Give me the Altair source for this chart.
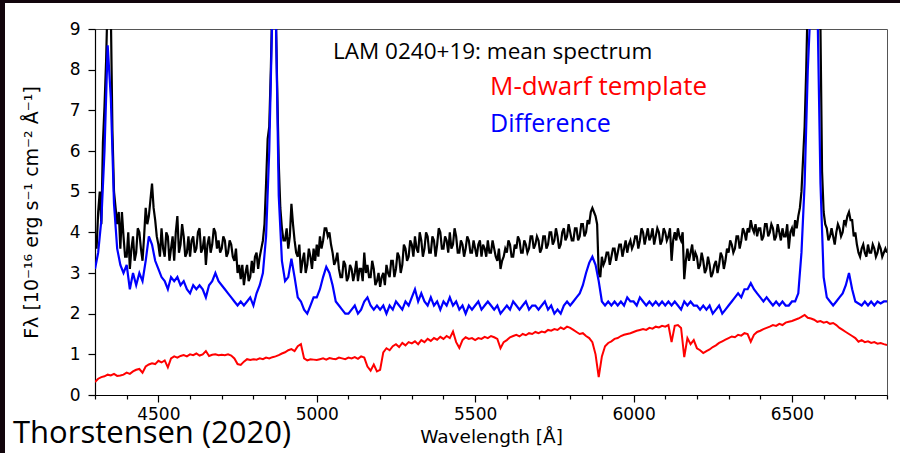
import altair as alt
import pandas as pd

# mean spectrum: wavelength grid 4300..6800 A in 10 A steps, plus values
# read at the half-way points (4305, 4315, ...)
mean_grid = [
    3.9, 4.5, 4.2, 7.1, 9.8, 9.4, 5.0, 4.2, 3.6, 3.9,
    3.4, 3.1, 3.9, 3.5, 4.0, 3.3, 4.6, 4.4, 5.2, 4.3,
    3.7, 4.1, 3.4, 3.9, 3.6, 3.3, 4.4, 3.7, 3.9, 3.5,
    3.4, 3.9, 3.6, 4.1, 3.6, 3.2, 3.9, 3.7, 4.0, 3.8,
    3.6, 3.8, 3.5, 3.7, 3.3, 3.0, 2.85, 2.7, 3.2, 2.9,
    3.0, 3.5, 3.4, 3.8, 5.2, 6.6, 9.8, 9.7, 5.7, 4.1,
    3.8, 3.6, 4.7, 3.8, 3.4, 3.0, 3.5, 3.2, 3.4, 3.6,
    3.7, 3.9, 3.8, 4.1, 4.0, 3.5, 3.3, 3.1, 2.9, 3.2,
    2.9, 3.1, 3.0, 2.8, 3.1, 3.5, 3.2, 2.9, 3.1, 2.8,
    2.66, 3.0, 3.2, 2.9, 3.3, 3.1, 3.4, 3.2, 3.6, 3.4,
    3.7, 3.9, 3.5, 3.8, 3.6, 3.9, 3.5, 3.8, 3.7, 4.0,
    3.6, 3.8, 4.0, 3.7, 3.9, 3.5, 3.7, 3.6, 3.8, 3.5,
    3.6, 3.7, 3.4, 3.6, 3.8, 3.5, 3.6, 3.3, 3.1, 3.4,
    3.5, 3.7, 3.4, 3.6, 3.8, 3.5, 3.7, 3.6, 3.9, 3.7,
    3.8, 3.6, 3.9, 3.7, 4.0, 3.8, 3.9, 3.7, 4.1, 3.9,
    4.0, 3.8, 4.1, 3.9, 4.2, 4.0, 4.2, 4.6, 4.4, 3.0,
    3.4, 3.3, 3.5, 3.4, 3.6, 3.5, 3.7, 3.6, 3.5, 3.8,
    3.7, 3.9, 3.8, 4.0, 3.9, 3.8, 4.1, 3.9, 4.0, 3.8,
    4.0, 3.9, 3.3, 4.0, 4.1, 3.8, 2.85, 3.6, 3.5, 3.3,
    3.4, 3.2, 3.3, 3.1, 3.2, 3.0, 3.3, 3.2, 3.4, 3.3,
    3.5, 3.7, 3.6, 3.9, 3.8, 4.0, 4.1, 4.3, 4.0, 3.9,
    4.1, 3.9, 4.2, 4.0, 4.1, 3.9, 4.0, 4.1, 3.9, 3.6,
    4.1, 4.3, 4.4, 5.0, 6.6, 9.8, 9.8, 9.8, 9.8, 9.0,
    4.5, 4.1, 3.9, 3.9, 4.0, 4.1, 4.0, 4.2, 4.5, 4.3,
    4.0, 3.5, 3.6, 3.5, 3.7, 3.5, 3.6, 3.5, 3.6, 3.5,
    3.5,
]
mean_half = [
    3.6, 5.0, 6.2, 8.2, 9.8, 6.5, 4.6, 4.5, 4.5, 3.4,
    4.0, 3.6, 3.3, 4.1, 3.6, 3.9, 4.2, 4.8, 4.6, 3.9,
    3.4, 3.6, 4.0, 3.3, 3.9, 4.0, 3.5, 4.2, 3.4, 3.9,
    3.8, 3.5, 4.0, 3.5, 3.9, 3.7, 3.5, 4.1, 3.6, 3.5,
    3.9, 3.4, 3.8, 3.4, 3.6, 3.2, 3.2, 3.0, 2.8, 3.3,
    3.4, 3.1, 3.6, 4.2, 6.3, 8.0, 9.8, 7.6, 4.6, 3.8,
    4.1, 3.9, 4.2, 3.5, 3.7, 3.3, 3.0, 3.6, 3.1, 3.3,
    3.4, 3.6, 4.1, 3.9, 3.7, 3.2, 3.5, 2.9, 3.3, 2.8,
    3.2, 2.8, 3.3, 3.1, 2.8, 3.0, 2.9, 3.3, 2.7, 3.0,
    2.9, 2.7, 3.0, 3.3, 2.9, 3.5, 3.0, 3.7, 3.3, 3.8,
    3.4, 3.6, 4.0, 3.4, 4.0, 3.5, 3.9, 3.4, 4.1, 3.6,
    3.9, 3.5, 3.6, 4.1, 3.5, 3.8, 3.4, 3.9, 3.5, 3.8,
    3.4, 3.8, 3.7, 3.4, 3.5, 3.8, 3.4, 3.6, 3.3, 3.6,
    3.8, 3.4, 3.7, 3.9, 3.5, 3.8, 3.5, 3.9, 3.6, 3.9,
    3.5, 3.9, 3.6, 4.0, 3.7, 4.1, 3.6, 4.0, 3.8, 4.2,
    3.8, 4.1, 3.8, 4.2, 3.9, 4.3, 4.5, 4.5, 4.2, 2.9,
    3.2, 3.5, 3.2, 3.6, 3.3, 3.7, 3.4, 3.8, 3.7, 3.6,
    3.9, 3.6, 4.1, 3.7, 4.1, 3.9, 3.7, 4.1, 3.7, 4.1,
    3.8, 4.1, 3.8, 3.8, 3.9, 4.0, 3.3, 3.3, 3.7, 3.5,
    3.1, 3.5, 3.0, 3.4, 2.9, 3.2, 3.0, 3.5, 3.1, 3.6,
    3.8, 3.5, 3.9, 3.6, 4.1, 3.8, 4.0, 4.1, 4.2, 4.1,
    3.8, 4.2, 3.9, 4.2, 3.8, 4.2, 3.8, 3.9, 4.2, 4.0,
    3.9, 4.1, 4.6, 5.8, 8.0, 9.8, 9.8, 9.8, 9.8, 5.5,
    4.2, 3.8, 4.1, 3.7, 4.2, 3.9, 4.3, 4.4, 4.3, 3.9,
    3.7, 3.4, 3.7, 3.4, 3.5, 3.7, 3.4, 3.7, 3.4, 3.6,
]

# wavelength grid (Angstrom), 10 A steps, for the difference and template
wavelength = list(range(4300, 6810, 10))

difference = [
    3.1, 3.5, 4.3, 6.0, 8.6, 7.3, 4.7, 3.6, 3.2, 3.0,
    3.2, 2.6, 3.0, 2.7, 3.0, 2.8, 3.3, 3.9, 3.7, 3.3,
    3.1, 2.9, 2.8, 2.6, 2.9, 2.8, 2.9, 2.7, 2.8, 2.6,
    2.5, 2.7, 2.6, 2.7, 2.6, 2.4, 2.7, 2.8, 3.0, 2.8,
    2.7, 2.6, 2.5, 2.4, 2.3, 2.2, 2.3, 2.2, 2.3, 2.4,
    2.2, 2.5, 2.7, 3.0, 3.9, 6.0, 9.5, 9.8, 4.9, 3.3,
    2.8, 2.9, 3.35, 2.9, 2.4, 2.3, 2.1, 2.0, 2.2, 2.4,
    2.4, 2.6, 2.9, 3.15, 3.0, 2.7, 2.3, 2.2, 2.1, 2.0,
    2.0, 2.1, 2.2, 2.0, 2.1, 2.3, 2.4, 2.2, 2.1, 2.2,
    2.1, 2.2, 2.0, 2.2, 2.1, 2.3, 2.2, 2.1, 2.3, 2.2,
    2.4, 2.6, 2.3, 2.5, 2.3, 2.2, 2.4, 2.2, 2.3, 2.1,
    2.3, 2.2, 2.4, 2.2, 2.3, 2.1, 2.2, 2.0, 2.2, 2.1,
    2.2, 2.3, 2.1, 2.2, 2.3, 2.2, 2.1, 2.2, 2.0, 2.1,
    2.2, 2.1, 2.3, 2.2, 2.1, 2.2, 2.3, 2.1, 2.2, 2.2,
    2.1, 2.2, 2.3, 2.1, 2.2, 2.0, 2.1, 2.0, 2.2, 2.3,
    2.2, 2.3, 2.4, 2.5, 2.7, 3.0, 3.25, 3.4, 3.2, 2.8,
    2.3, 2.2, 2.3, 2.2, 2.3, 2.2, 2.3, 2.2, 2.4, 2.3,
    2.3, 2.2, 2.4, 2.3, 2.2, 2.3, 2.2, 2.3, 2.2, 2.3,
    2.2, 2.3, 2.2, 2.3, 2.2, 2.1, 2.3, 2.2, 2.3, 2.2,
    2.2, 2.1, 2.2, 2.1, 2.2, 2.0, 2.1, 2.2, 2.0, 2.1,
    2.2, 2.3, 2.4, 2.5, 2.4, 2.6, 2.6, 2.75, 2.6, 2.5,
    2.4, 2.3, 2.4, 2.3, 2.2, 2.3, 2.2, 2.3, 2.2, 2.2,
    2.3, 2.3, 2.5, 3.5, 5.2, 8.0, 9.8, 9.8, 9.8, 5.2,
    2.9, 2.4, 2.3, 2.2, 2.3, 2.4, 2.5, 2.7, 3.0, 2.6,
    2.3, 2.25, 2.2, 2.3, 2.2, 2.3, 2.2, 2.3, 2.25, 2.3,
    2.3,
]

m_dwarf = [
    0.32, 0.40, 0.44, 0.46, 0.50, 0.48, 0.52, 0.47, 0.48, 0.50,
    0.55, 0.52, 0.58, 0.62, 0.64, 0.55, 0.70, 0.75, 0.78, 0.76,
    0.84, 0.80, 0.85, 0.68, 0.90, 0.95, 0.92, 0.96, 0.98, 0.95,
    1.00, 0.98, 1.02, 0.97, 1.00, 1.08, 0.96, 0.99, 1.00, 0.98,
    0.99, 0.98, 1.00, 0.97, 0.90, 0.76, 0.74, 0.82, 0.88, 0.86,
    0.88, 0.87, 0.90, 0.88, 0.92, 0.90, 0.93, 0.95, 0.98, 1.02,
    1.05, 1.10, 1.13, 1.08, 1.20, 1.25, 0.90, 0.85, 0.88, 0.87,
    0.86, 0.88, 0.90, 0.87, 0.91, 0.89, 0.88, 0.92, 0.90, 0.88,
    0.92, 0.90, 0.93, 0.89, 0.95, 0.92, 0.70, 0.60, 0.75, 0.58,
    0.62, 1.05, 1.15, 1.10, 1.20, 1.25, 1.18, 1.28, 1.22, 1.30,
    1.27, 1.32, 1.25, 1.35, 1.30, 1.38, 1.33, 1.40, 1.36, 1.43,
    1.38, 1.45, 1.40, 1.56, 1.30, 1.16, 1.35, 1.42, 1.38, 1.40,
    1.35, 1.40, 1.38, 1.43, 1.40, 1.45, 1.42, 1.38, 1.15, 1.30,
    1.35, 1.42, 1.45, 1.48, 1.44, 1.50, 1.47, 1.52, 1.50, 1.55,
    1.52, 1.56, 1.54, 1.60, 1.58, 1.62, 1.60, 1.66, 1.62, 1.68,
    1.65, 1.60, 1.55, 1.50, 1.52, 1.45, 1.40, 1.30, 1.00, 0.44,
    0.95, 1.20, 1.28, 1.32, 1.38, 1.40, 1.45, 1.48, 1.50, 1.52,
    1.55, 1.58, 1.60, 1.62, 1.60, 1.65, 1.63, 1.68, 1.66, 1.70,
    1.68, 1.72, 1.30, 1.70, 1.72, 1.65, 0.93, 1.40, 1.25, 1.35,
    1.15, 1.10, 1.03, 1.08, 1.12, 1.18, 1.22, 1.28, 1.32, 1.36,
    1.40, 1.44, 1.42, 1.48, 1.46, 1.52, 1.50, 1.31, 1.48, 1.55,
    1.58, 1.62, 1.65, 1.68, 1.72, 1.70, 1.75, 1.72, 1.78, 1.80,
    1.82, 1.85, 1.88, 1.92, 1.97, 1.90, 1.88, 1.85, 1.80, 1.82,
    1.78, 1.80, 1.75, 1.77, 1.72, 1.65, 1.60, 1.55, 1.50, 1.45,
    1.40, 1.31, 1.35, 1.30, 1.32, 1.28, 1.30, 1.26, 1.28, 1.25,
    1.23,
]

x_ticks = list(range(4300, 6810, 100))
y_ticks = list(range(0, 10))

W, H = 792, 366

x_scale = alt.Scale(domain=[4300, 6800], nice=False, zero=False)
y_scale = alt.Scale(domain=[0, 9], nice=False)

x_axis = alt.Axis(
    title="Wavelength [Å]", values=x_ticks, format="d",
    labelExpr="datum.value % 500 === 0 ? datum.label : ''",
    tickSize={"condition": {"test": "datum.value % 500 === 0", "value": 7}, "value": 4},
    labelPadding=4, labelFlush=False, labelOverlap=False, grid=False,
    titlePadding=5, titleFontSize=18.5,
)
y_axis = alt.Axis(
    title="Fλ [10⁻¹⁶ erg s⁻¹ cm⁻² Å⁻¹]", values=y_ticks, format="d",
    tickSize=7, labelPadding=8, grid=False, titlePadding=28, titleFontSize=19,
)

# interleave the mean spectrum's 10 A values and half-way values
mean_wl, mean_flux = [], []
for i, w in enumerate(wavelength):
    mean_wl.append(w)
    mean_flux.append(mean_grid[i])
    if i < len(mean_half):
        mean_wl.append(w + 5)
        mean_flux.append(mean_half[i])


def spectrum(wl, values, color, width):
    df = pd.DataFrame({"wl": wl, "flux": values})
    return alt.Chart(df).mark_line(
        color=color, strokeWidth=width, clip=True, strokeJoin="miter"
    ).encode(
        x=alt.X("wl:Q", scale=x_scale, axis=x_axis),
        y=alt.Y("flux:Q", scale=y_scale, axis=y_axis),
    )


one = pd.DataFrame({"a": [0]})


def label(text, x, y, size, color, font="Open Sans"):
    return alt.Chart(one).mark_text(
        text=text, align="left", baseline="alphabetic", fontSize=size,
        font=font, color=color, clip=False,
    ).encode(x=alt.value(x), y=alt.value(y))


frame_top = alt.Chart(one).mark_rect(color="#12050c", clip=False).encode(
    x=alt.value(-95), x2=alt.value(900 - 95), y=alt.value(-29), y2=alt.value(-26)
)
frame_left = alt.Chart(one).mark_rect(color="#12050c", clip=False).encode(
    x=alt.value(-95), x2=alt.value(-90), y=alt.value(-29), y2=alt.value(453 - 29)
)

chart = alt.layer(
    spectrum(mean_wl, mean_flux, "#000000", 2.2),
    spectrum(wavelength, difference, "#0000ff", 2.2),
    spectrum(wavelength, m_dwarf, "#ff0000", 2.0),
    label("LAM 0240+19: mean spectrum", 238, 30, 22.5, "#000000"),
    label("M-dwarf template", 395, 66, 26, "#ff0000"),
    label("Difference", 395, 103, 25, "#0000ff"),
    label("Thorstensen (2020)", -82, 414, 31, "#000000"),
    frame_top,
    frame_left,
).properties(
    width=W, height=H,
    autosize=alt.AutoSizeParams(type="none"),
    padding={"left": 95, "top": 29, "right": 13, "bottom": 58},
    background="white",
).configure_view(
    stroke="#555555", strokeWidth=1
).configure_axis(
    labelFont="DejaVu Sans", titleFont="DejaVu Sans", labelFontSize=17,
    titleFontWeight="normal", labelColor="#000000",
    titleColor="#000000", domainColor="#000000", tickColor="#000000",
    domainWidth=1.2, tickWidth=1.2,
)

chart.save("out.html", embed_options={"renderer": "svg", "actions": False})
